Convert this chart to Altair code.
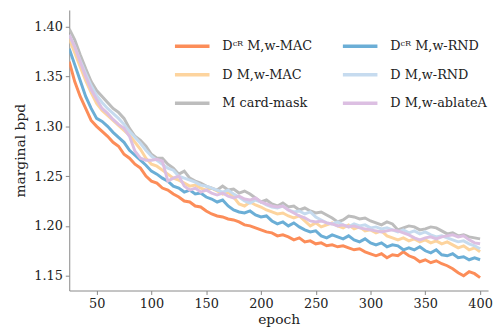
import altair as alt
import pandas as pd

epochs = list(range(25, 401, 5))

# legend order (filled column by column, three rows)
series_names = [
    "Dᶜᴿ M,w-MAC",
    "D M,w-MAC",
    "M card-mask",
    "Dᶜᴿ M,w-RND",
    "D M,w-RND",
    "D M,w-ablateA",
]
series_colors = ["#fc8d59", "#fdd49e", "#bdbdbd", "#6baed6", "#c6dbef", "#dcbfe2"]

orange_cr_mac = [
    1.365, 1.345, 1.330, 1.318, 1.306, 1.300, 1.295, 1.290, 1.284, 1.280,
    1.272, 1.268, 1.262, 1.258, 1.250, 1.245, 1.243, 1.238, 1.236, 1.232,
    1.229, 1.225, 1.224, 1.220, 1.219, 1.215, 1.212, 1.210, 1.209, 1.207,
    1.206, 1.204, 1.201, 1.200, 1.198, 1.196, 1.194, 1.193, 1.190, 1.191,
    1.189, 1.186, 1.188, 1.184, 1.185, 1.182, 1.183, 1.180, 1.181, 1.179,
    1.180, 1.178, 1.176, 1.177, 1.174, 1.172, 1.170, 1.172, 1.168, 1.171,
    1.170, 1.174, 1.170, 1.168, 1.164, 1.166, 1.163, 1.165, 1.162, 1.160,
    1.157, 1.153, 1.150, 1.154, 1.152, 1.148,
]
yellow_mac = [
    1.388, 1.374, 1.360, 1.346, 1.334, 1.323, 1.316, 1.311, 1.306, 1.301,
    1.296, 1.291, 1.284, 1.277, 1.268, 1.262, 1.260, 1.256, 1.252, 1.248,
    1.246, 1.243, 1.240, 1.241, 1.238, 1.236, 1.238, 1.235, 1.232, 1.234,
    1.229, 1.222, 1.220, 1.224, 1.221, 1.219, 1.216, 1.214, 1.212, 1.213,
    1.210, 1.208, 1.210, 1.205, 1.200, 1.203, 1.199, 1.201, 1.203, 1.200,
    1.198, 1.201, 1.197, 1.199, 1.195, 1.196, 1.193, 1.195, 1.190, 1.188,
    1.186, 1.188, 1.185, 1.187, 1.184, 1.186, 1.183, 1.185, 1.182, 1.184,
    1.181, 1.178, 1.180, 1.176, 1.178, 1.174,
]
gray_card_mask = [
    1.398, 1.387, 1.372, 1.358, 1.345, 1.336, 1.330, 1.324, 1.318, 1.314,
    1.308, 1.298, 1.290, 1.286, 1.280, 1.272, 1.268, 1.268, 1.262, 1.258,
    1.252, 1.255, 1.248, 1.245, 1.243, 1.240, 1.238, 1.236, 1.240, 1.236,
    1.237, 1.233, 1.235, 1.232, 1.228, 1.224, 1.226, 1.222, 1.220, 1.223,
    1.219, 1.220, 1.216, 1.218, 1.215, 1.213, 1.214, 1.211, 1.208, 1.204,
    1.206, 1.210, 1.209, 1.207, 1.208, 1.205, 1.203, 1.201, 1.204, 1.202,
    1.196, 1.198, 1.200, 1.199, 1.196, 1.197, 1.199, 1.198, 1.195, 1.192,
    1.193, 1.190, 1.191, 1.189, 1.188, 1.187,
]
blue_cr_rnd = [
    1.378, 1.362, 1.346, 1.330, 1.318, 1.308, 1.305, 1.300, 1.294, 1.289,
    1.284, 1.276, 1.271, 1.266, 1.261, 1.255, 1.252, 1.248, 1.245, 1.240,
    1.238, 1.234, 1.236, 1.232, 1.233, 1.229, 1.227, 1.224, 1.226, 1.220,
    1.216, 1.214, 1.213, 1.215, 1.211, 1.209, 1.210, 1.205, 1.202, 1.204,
    1.200, 1.203, 1.199, 1.196, 1.194, 1.195, 1.190, 1.188, 1.191, 1.189,
    1.187, 1.190, 1.186, 1.184, 1.187, 1.183, 1.181, 1.183, 1.179, 1.181,
    1.180, 1.176, 1.178, 1.176, 1.179, 1.175, 1.173, 1.176, 1.171, 1.170,
    1.172, 1.168, 1.169, 1.166, 1.168, 1.166,
]
lightblue_rnd = [
    1.392, 1.380, 1.366, 1.353, 1.341, 1.331, 1.324, 1.318, 1.313, 1.308,
    1.302, 1.295, 1.289, 1.283, 1.276, 1.270, 1.266, 1.262, 1.258, 1.256,
    1.250, 1.248, 1.246, 1.244, 1.241, 1.240, 1.238, 1.236, 1.234, 1.236,
    1.232, 1.229, 1.225, 1.223, 1.226, 1.224, 1.221, 1.219, 1.218, 1.220,
    1.216, 1.214, 1.215, 1.212, 1.214, 1.209, 1.206, 1.203, 1.202, 1.204,
    1.201, 1.199, 1.202, 1.200, 1.201, 1.198, 1.199, 1.197, 1.198, 1.196,
    1.194, 1.196, 1.193, 1.195, 1.192, 1.194, 1.191, 1.189, 1.190, 1.188,
    1.186, 1.184, 1.185, 1.182, 1.180, 1.177,
]
pink_ablate = [
    1.392, 1.380, 1.365, 1.350, 1.337, 1.327, 1.318, 1.313, 1.307, 1.302,
    1.298, 1.290, 1.275, 1.268, 1.266, 1.266, 1.267, 1.265, 1.245, 1.248,
    1.250, 1.240, 1.236, 1.238, 1.234, 1.236, 1.233, 1.231, 1.233, 1.230,
    1.228, 1.230, 1.227, 1.226, 1.228, 1.224, 1.222, 1.220, 1.219, 1.220,
    1.216, 1.213, 1.210, 1.208, 1.205, 1.204, 1.205, 1.203, 1.202, 1.200,
    1.201, 1.199, 1.200, 1.198, 1.197, 1.196, 1.195, 1.194, 1.195, 1.196,
    1.195, 1.193, 1.191, 1.188, 1.186, 1.188, 1.189, 1.187, 1.189, 1.190,
    1.191, 1.189, 1.190, 1.186, 1.183, 1.182,
]

all_series = [orange_cr_mac, yellow_mac, gray_card_mask, blue_cr_rnd, lightblue_rnd, pink_ablate]

rows = []
for idx, vals in enumerate(all_series):
    for e, v in zip(epochs, vals):
        rows.append({"epoch": e, "bpd": v, "series": series_names[idx]})
df = pd.DataFrame(rows)

x_ticks = [50, 100, 150, 200, 250, 300, 350, 400]
y_ticks = [1.15, 1.20, 1.25, 1.30, 1.35, 1.40]

font = "DejaVu Serif"

chart = alt.Chart(df).mark_line(strokeWidth=3, clip=True).encode(
    x=alt.X("epoch:Q", scale=alt.Scale(domain=[25, 407.3], nice=False, zero=False),
            axis=alt.Axis(values=x_ticks, title="epoch", grid=False)),
    y=alt.Y("bpd:Q", scale=alt.Scale(domain=[1.1351, 1.4169], nice=False, zero=False),
            axis=alt.Axis(values=y_ticks, format=".2f", title="marginal bpd", grid=False)),
    color=alt.Color("series:N",
                    scale=alt.Scale(domain=series_names, range=series_colors),
                    legend=alt.Legend(orient="none", legendX=114, legendY=26, columns=2,
                                      title=None, symbolType="M-2,0H2", symbolSize=306,
                                      symbolStrokeWidth=3.5, labelOffset=20,
                                      labelFont=font, labelFontSize=13, labelColor="#222222",
                                      labelLimit=200,
                                      rowPadding=11, columnPadding=24, padding=0)),
).properties(
    width=424, height=284,
    autosize=alt.AutoSizeParams(type="none"),
    padding={"left": 62, "top": 0, "right": 6, "bottom": 41},
    background="white",
).configure_view(stroke=None).configure_axis(
    labelFont=font, labelFontSize=13, labelColor="#222222",
    titleFont=font, titleFontSize=14, titleFontWeight="normal", titleColor="#222222",
    domainColor="#888888", tickColor="#888888", tickSize=4, labelPadding=3,
).configure_axisY(titlePadding=6).configure_axisX(titlePadding=2)

chart.save("out.html", embed_options={"renderer": "svg", "actions": False})
